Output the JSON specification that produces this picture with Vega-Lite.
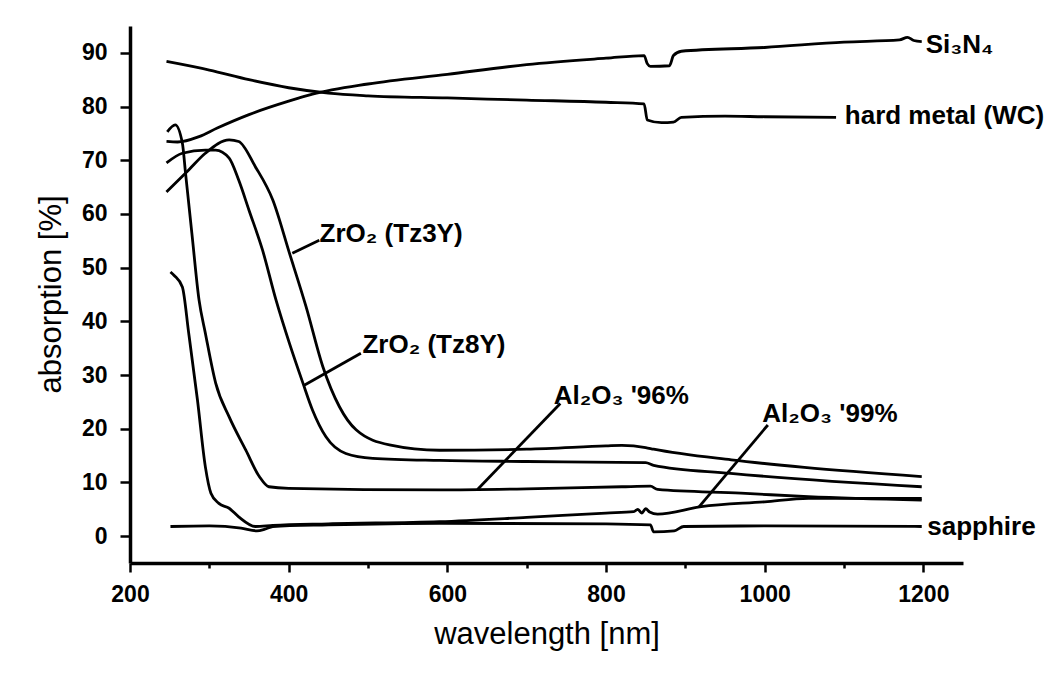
{
  "$schema": "https://vega.github.io/schema/vega-lite/v6.json",
  "width": 833,
  "height": 537,
  "autosize": {"type": "none"},
  "padding": {"left": 130, "top": 26, "right": 100, "bottom": 110},
  "background": "white",
  "config": {"view": {"stroke": null}, "font": "Liberation Sans"},
  "datasets": {
    "curves": [
      {"s": "Si3N4", "nm": 246, "a": 73.5}, {"s": "Si3N4", "nm": 260, "a": 73.4}, {"s": "Si3N4", "nm": 287, "a": 74.4},
      {"s": "Si3N4", "nm": 310, "a": 76.0}, {"s": "Si3N4", "nm": 350, "a": 78.5}, {"s": "Si3N4", "nm": 400, "a": 81.0},
      {"s": "Si3N4", "nm": 430, "a": 82.3}, {"s": "Si3N4", "nm": 500, "a": 84.2}, {"s": "Si3N4", "nm": 600, "a": 86.0},
      {"s": "Si3N4", "nm": 700, "a": 87.8}, {"s": "Si3N4", "nm": 800, "a": 89.0}, {"s": "Si3N4", "nm": 848, "a": 89.5},
      {"s": "Si3N4", "nm": 852, "a": 88.0}, {"s": "Si3N4", "nm": 856, "a": 87.5}, {"s": "Si3N4", "nm": 880, "a": 87.6},
      {"s": "Si3N4", "nm": 885, "a": 89.5}, {"s": "Si3N4", "nm": 895, "a": 90.3}, {"s": "Si3N4", "nm": 1000, "a": 91.0},
      {"s": "Si3N4", "nm": 1100, "a": 92.0}, {"s": "Si3N4", "nm": 1170, "a": 92.4}, {"s": "Si3N4", "nm": 1180, "a": 92.9},
      {"s": "Si3N4", "nm": 1188, "a": 92.3}, {"s": "Si3N4", "nm": 1198, "a": 92.1},

      {"s": "WC", "nm": 246, "a": 88.4}, {"s": "WC", "nm": 300, "a": 86.8}, {"s": "WC", "nm": 350, "a": 85.0},
      {"s": "WC", "nm": 400, "a": 83.5}, {"s": "WC", "nm": 450, "a": 82.5}, {"s": "WC", "nm": 500, "a": 82.0},
      {"s": "WC", "nm": 600, "a": 81.6}, {"s": "WC", "nm": 700, "a": 81.2}, {"s": "WC", "nm": 800, "a": 80.8},
      {"s": "WC", "nm": 848, "a": 80.5}, {"s": "WC", "nm": 852, "a": 77.5}, {"s": "WC", "nm": 870, "a": 77.0},
      {"s": "WC", "nm": 885, "a": 77.1}, {"s": "WC", "nm": 895, "a": 78.0}, {"s": "WC", "nm": 950, "a": 78.2},
      {"s": "WC", "nm": 1000, "a": 78.1}, {"s": "WC", "nm": 1090, "a": 78.0},

      {"s": "Tz3Y", "nm": 246, "a": 64.1}, {"s": "Tz3Y", "nm": 274, "a": 68.2}, {"s": "Tz3Y", "nm": 295, "a": 71.3},
      {"s": "Tz3Y", "nm": 325, "a": 73.8}, {"s": "Tz3Y", "nm": 337, "a": 73.5}, {"s": "Tz3Y", "nm": 358, "a": 68.8},
      {"s": "Tz3Y", "nm": 380, "a": 62.6}, {"s": "Tz3Y", "nm": 401, "a": 52.7}, {"s": "Tz3Y", "nm": 422, "a": 42.7},
      {"s": "Tz3Y", "nm": 443, "a": 31.6}, {"s": "Tz3Y", "nm": 464, "a": 24.1}, {"s": "Tz3Y", "nm": 485, "a": 19.8},
      {"s": "Tz3Y", "nm": 527, "a": 17.0}, {"s": "Tz3Y", "nm": 590, "a": 16.0}, {"s": "Tz3Y", "nm": 700, "a": 16.2},
      {"s": "Tz3Y", "nm": 800, "a": 16.8}, {"s": "Tz3Y", "nm": 820, "a": 16.9}, {"s": "Tz3Y", "nm": 850, "a": 16.5},
      {"s": "Tz3Y", "nm": 860, "a": 16.2}, {"s": "Tz3Y", "nm": 958, "a": 14.2}, {"s": "Tz3Y", "nm": 1050, "a": 12.8},
      {"s": "Tz3Y", "nm": 1198, "a": 11.1},

      {"s": "Tz8Y", "nm": 246, "a": 69.5}, {"s": "Tz8Y", "nm": 266, "a": 71.3}, {"s": "Tz8Y", "nm": 295, "a": 71.9},
      {"s": "Tz8Y", "nm": 308, "a": 71.9}, {"s": "Tz8Y", "nm": 325, "a": 70.4}, {"s": "Tz8Y", "nm": 337, "a": 66.3},
      {"s": "Tz8Y", "nm": 350, "a": 60.7}, {"s": "Tz8Y", "nm": 367, "a": 53.3}, {"s": "Tz8Y", "nm": 384, "a": 44.0},
      {"s": "Tz8Y", "nm": 401, "a": 35.9}, {"s": "Tz8Y", "nm": 418, "a": 28.5}, {"s": "Tz8Y", "nm": 430, "a": 23.5},
      {"s": "Tz8Y", "nm": 447, "a": 18.5}, {"s": "Tz8Y", "nm": 472, "a": 15.4}, {"s": "Tz8Y", "nm": 506, "a": 14.5},
      {"s": "Tz8Y", "nm": 590, "a": 14.1}, {"s": "Tz8Y", "nm": 700, "a": 13.9}, {"s": "Tz8Y", "nm": 850, "a": 13.7},
      {"s": "Tz8Y", "nm": 860, "a": 13.2}, {"s": "Tz8Y", "nm": 957, "a": 11.7}, {"s": "Tz8Y", "nm": 1198, "a": 9.2},

      {"s": "Al96", "nm": 247, "a": 75.3}, {"s": "Al96", "nm": 257, "a": 76.6}, {"s": "Al96", "nm": 266, "a": 73.2},
      {"s": "Al96", "nm": 270, "a": 67.6}, {"s": "Al96", "nm": 278, "a": 56.4}, {"s": "Al96", "nm": 287, "a": 44.0},
      {"s": "Al96", "nm": 295, "a": 37.8}, {"s": "Al96", "nm": 308, "a": 28.5}, {"s": "Al96", "nm": 325, "a": 22.2},
      {"s": "Al96", "nm": 346, "a": 16.0}, {"s": "Al96", "nm": 363, "a": 11.1}, {"s": "Al96", "nm": 375, "a": 9.2},
      {"s": "Al96", "nm": 400, "a": 8.9}, {"s": "Al96", "nm": 590, "a": 8.6}, {"s": "Al96", "nm": 700, "a": 8.8},
      {"s": "Al96", "nm": 820, "a": 9.2}, {"s": "Al96", "nm": 856, "a": 9.3}, {"s": "Al96", "nm": 865, "a": 8.7},
      {"s": "Al96", "nm": 970, "a": 8.0}, {"s": "Al96", "nm": 1055, "a": 7.35}, {"s": "Al96", "nm": 1198, "a": 6.7},

      {"s": "Al99", "nm": 251, "a": 49.2}, {"s": "Al99", "nm": 256, "a": 48.5}, {"s": "Al99", "nm": 266, "a": 46.4},
      {"s": "Al99", "nm": 274, "a": 37.8}, {"s": "Al99", "nm": 285, "a": 25.4}, {"s": "Al99", "nm": 295, "a": 12.9},
      {"s": "Al99", "nm": 302, "a": 8.0}, {"s": "Al99", "nm": 312, "a": 6.1}, {"s": "Al99", "nm": 325, "a": 5.2},
      {"s": "Al99", "nm": 337, "a": 3.6}, {"s": "Al99", "nm": 358, "a": 1.8}, {"s": "Al99", "nm": 380, "a": 2.0},
      {"s": "Al99", "nm": 450, "a": 2.3}, {"s": "Al99", "nm": 590, "a": 2.7}, {"s": "Al99", "nm": 700, "a": 3.5},
      {"s": "Al99", "nm": 800, "a": 4.3}, {"s": "Al99", "nm": 835, "a": 4.55}, {"s": "Al99", "nm": 840, "a": 5.0},
      {"s": "Al99", "nm": 845, "a": 4.3}, {"s": "Al99", "nm": 850, "a": 5.1}, {"s": "Al99", "nm": 855, "a": 4.5},
      {"s": "Al99", "nm": 865, "a": 4.1}, {"s": "Al99", "nm": 920, "a": 5.5}, {"s": "Al99", "nm": 1000, "a": 6.4},
      {"s": "Al99", "nm": 1055, "a": 7.05}, {"s": "Al99", "nm": 1198, "a": 7.05},

      {"s": "sapphire", "nm": 251, "a": 1.8}, {"s": "sapphire", "nm": 300, "a": 1.9}, {"s": "sapphire", "nm": 340, "a": 1.5},
      {"s": "sapphire", "nm": 360, "a": 1.0}, {"s": "sapphire", "nm": 370, "a": 1.3}, {"s": "sapphire", "nm": 380, "a": 1.8},
      {"s": "sapphire", "nm": 450, "a": 2.1}, {"s": "sapphire", "nm": 590, "a": 2.4}, {"s": "sapphire", "nm": 800, "a": 2.3},
      {"s": "sapphire", "nm": 856, "a": 2.1}, {"s": "sapphire", "nm": 860, "a": 0.8}, {"s": "sapphire", "nm": 886, "a": 1.0},
      {"s": "sapphire", "nm": 898, "a": 1.8}, {"s": "sapphire", "nm": 1000, "a": 1.9}, {"s": "sapphire", "nm": 1198, "a": 1.8}
    ],
    "leaders": [
      {"x1": 404.6, "y1": 52.7, "x2": 438.6, "y2": 55.1},
      {"x1": 419.6, "y1": 28.1, "x2": 491, "y2": 34.05},
      {"x1": 638, "y1": 8.7, "x2": 742.4, "y2": 24.7},
      {"x1": 917.5, "y1": 5.5, "x2": 1004, "y2": 20.7}
    ],
    "labels": [
      {"label": "Si₃N₄", "lx": 1203, "ly": 90.0},
      {"label": "hard metal (WC)", "lx": 1101, "ly": 76.75},
      {"label": "sapphire", "lx": 1205, "ly": 0.2},
      {"label": "ZrO₂ (Tz3Y)", "lx": 439, "ly": 54.8},
      {"label": "ZrO₂ (Tz8Y)", "lx": 493, "ly": 34.05},
      {"label": "Al₂O₃ '96%", "lx": 734, "ly": 24.7},
      {"label": "Al₂O₃ '99%", "lx": 997, "ly": 21.3}
    ]
  },
  "layer": [
    {
      "data": {"name": "curves"},
      "mark": {"type": "line", "color": "black", "strokeWidth": 2.8, "clip": true, "interpolate": "monotone"},
      "encoding": {
        "x": {
          "field": "nm", "type": "quantitative",
          "scale": {"domain": [200, 1250], "nice": false, "zero": false},
          "axis": {
            "values": [200, 300, 400, 500, 600, 700, 800, 900, 1000, 1100, 1200],
            "format": "d",
            "labelExpr": "datum.value % 200 === 0 ? datum.label : ''",
            "tickSize": {"condition": {"test": "datum.value % 200 === 0", "value": 9}, "value": 5},
            "title": "wavelength [nm]",
            "grid": false,
            "domainColor": "black", "domainWidth": 3.5,
            "tickColor": "black", "tickWidth": 2.5,
            "labelFont": "Liberation Sans", "labelFontSize": 23, "labelFontWeight": "bold", "labelColor": "black",
            "labelPadding": 11, "labelOverlap": false, "labelFlush": false,
            "titleFont": "Liberation Sans", "titleFontSize": 31, "titleFontWeight": "normal", "titleColor": "black",
            "titleY": 80, "titleBaseline": "alphabetic"
          }
        },
        "y": {
          "field": "a", "type": "quantitative",
          "scale": {"domain": [-5, 95], "nice": false, "zero": false},
          "axis": {
            "values": [0, 5, 10, 15, 20, 25, 30, 35, 40, 45, 50, 55, 60, 65, 70, 75, 80, 85, 90],
            "format": "d",
            "labelExpr": "datum.value % 10 === 0 ? datum.label : ''",
            "tickSize": {"condition": {"test": "datum.value % 10 === 0", "value": 10}, "value": 5},
            "title": "absorption [%]",
            "grid": false,
            "domainColor": "black", "domainWidth": 3.5,
            "tickColor": "black", "tickWidth": 2.5,
            "labelFont": "Liberation Sans", "labelFontSize": 23, "labelFontWeight": "bold", "labelColor": "black",
            "labelPadding": 13, "labelOverlap": false, "labelFlush": false,
            "titleFont": "Liberation Sans", "titleFontSize": 31, "titleFontWeight": "normal", "titleColor": "black",
            "titleX": -70, "titleY": 268, "titleBaseline": "alphabetic", "titleAngle": -90
          }
        },
        "detail": {"field": "s", "type": "nominal"}
      }
    },
    {
      "data": {"name": "leaders"},
      "mark": {"type": "rule", "color": "black", "strokeWidth": 2.8},
      "encoding": {
        "x": {"field": "x1", "type": "quantitative"},
        "y": {"field": "y1", "type": "quantitative"},
        "x2": {"field": "x2"},
        "y2": {"field": "y2"}
      }
    },
    {
      "data": {"name": "labels"},
      "mark": {"type": "text", "align": "left", "baseline": "alphabetic", "fontSize": 26, "fontWeight": "bold", "font": "Liberation Sans", "color": "black"},
      "encoding": {
        "x": {"field": "lx", "type": "quantitative"},
        "y": {"field": "ly", "type": "quantitative"},
        "text": {"field": "label"}
      }
    }
  ]
}
